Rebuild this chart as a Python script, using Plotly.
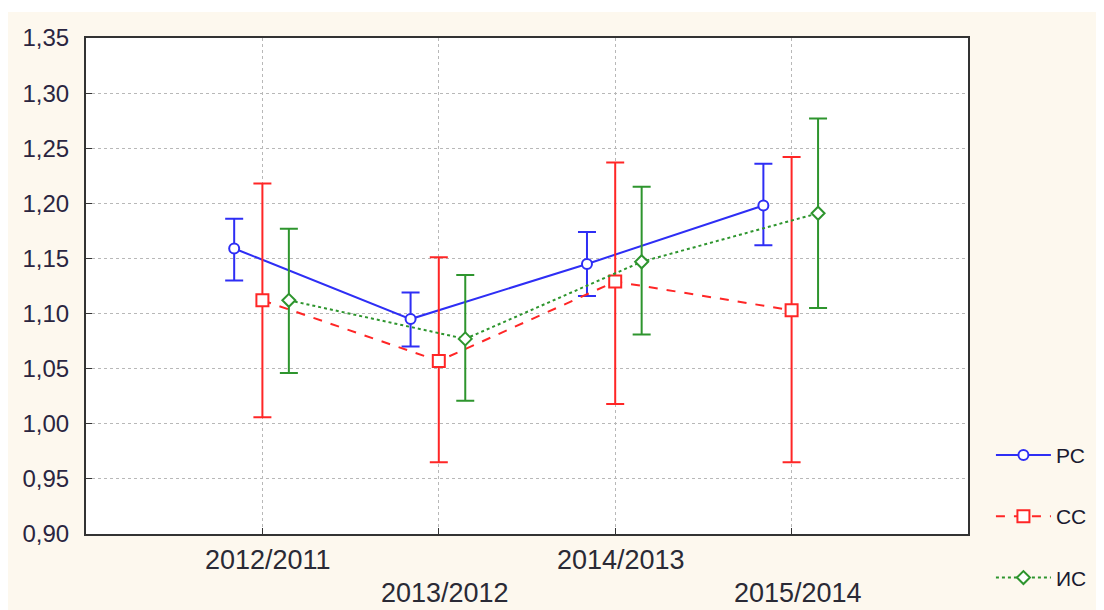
import plotly.graph_objects as go

categories = ["2012/2011", "2013/2012", "2014/2013", "2015/2014"]
series_names = ["РС", "СС", "ИС"]

rs_mean = [1.159, 1.095, 1.145, 1.198]
rs_upper = [1.186, 1.119, 1.174, 1.236]
rs_lower = [1.130, 1.070, 1.116, 1.162]

cc_mean = [1.112, 1.057, 1.129, 1.103]
cc_upper = [1.218, 1.151, 1.237, 1.242]
cc_lower = [1.006, 0.965, 1.018, 0.965]

ic_mean = [1.112, 1.077, 1.147, 1.191]
ic_upper = [1.177, 1.135, 1.215, 1.277]
ic_lower = [1.046, 1.021, 1.081, 1.105]

y_ticks = [0.90, 0.95, 1.00, 1.05, 1.10, 1.15, 1.20, 1.25, 1.30, 1.35]

offsets = [-0.16, 0.0, 0.15]
colors = ["#2e2ef5", "#ff2626", "#2e952e"]
dashes = ["solid", "dash", "dot"]
symbols = ["circle", "square", "diamond"]
msizes = [10, 12, 10]

means = [rs_mean, cc_mean, ic_mean]
uppers = [rs_upper, cc_upper, ic_upper]
lowers = [rs_lower, cc_lower, ic_lower]

FONT = "Liberation Sans, Arial, sans-serif"

fig = go.Figure()
idx = list(range(len(categories)))
for k in range(3):
    xs = [i + offsets[k] for i in idx]
    m = means[k]
    plus = [u - v for u, v in zip(uppers[k], m)]
    minus = [v - l for v, l in zip(m, lowers[k])]
    fig.add_trace(go.Scatter(
        x=xs, y=m, name=series_names[k], mode="lines+markers",
        legendgroup=series_names[k],
        line=dict(color=colors[k], width=2, dash=dashes[k]),
        marker=dict(symbol=symbols[k], size=msizes[k], color="#ffffff",
                    line=dict(width=2, color=colors[k])),
        error_y=dict(type="data", symmetric=False, array=plus, arrayminus=minus,
                     color=colors[k], thickness=2, width=9),
    ))

# staggered category labels
for i, lab in enumerate(categories):
    fig.add_annotation(
        x=i, y=0, xref="x", yref="paper", text=lab, showarrow=False,
        yshift=-26 if i % 2 == 0 else -59, xanchor="center", yanchor="middle",
        xshift=6,
        font=dict(family=FONT, size=27, color="#2a2a35"),
    )

fig.update_layout(
    width=1096, height=602,
    margin=dict(l=78, r=135, t=30, b=74),
    paper_bgcolor="#fdf8ee",
    plot_bgcolor="#ffffff",
    separators=", ",
    showlegend=True,
    legend=dict(x=1.026, y=0.200, xanchor="left", yanchor="top",
                font=dict(family=FONT, size=21, color="#1a1a30"),
                tracegroupgap=31, itemwidth=55, bgcolor="rgba(0,0,0,0)"),
    font=dict(family=FONT),
)
fig.update_xaxes(
    range=[-1, 4], tickvals=idx, ticktext=["" for _ in categories],
    showgrid=True, gridcolor="#b8b8b8", griddash="dot", gridwidth=1,
    showline=True, linecolor="#333333", linewidth=2, mirror=True,
    ticks="inside", ticklen=6, tickcolor="#333333", zeroline=False,
)
fig.update_yaxes(
    range=[0.90, 1.35], tickvals=y_ticks, tickformat=".2f",
    showgrid=True, gridcolor="#b8b8b8", griddash="dot", gridwidth=1,
    showline=True, linecolor="#333333", linewidth=2, mirror=True,
    ticks="inside", ticklen=6, tickcolor="#333333", zeroline=False,
    ticklabelstandoff=10,
    tickfont=dict(family=FONT, size=24, color="#2a2540"),
)

# white strip at the top, as in the reference
fig.add_shape(type="rect", xref="paper", yref="paper", x0=-0.2, x1=1.3,
              y0=1.0 + 26/498, y1=1.2, fillcolor="#ffffff", line=dict(width=0), layer="below")

fig.write_html("out.html")
